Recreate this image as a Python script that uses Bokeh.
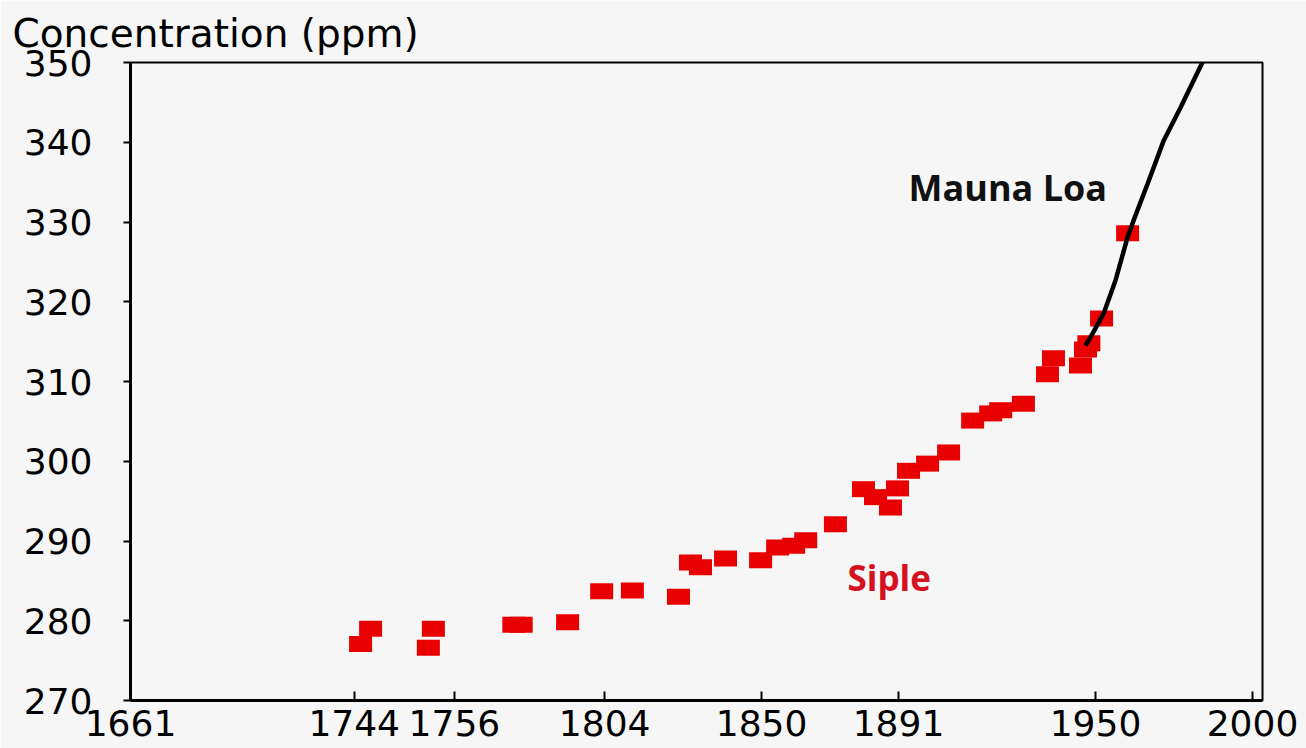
from bokeh.plotting import figure
from bokeh.models import Range1d, FixedTicker, Label
from bokeh.embed import file_html
from bokeh.resources import INLINE

# Siple ice-core CO2 samples (year, ppm)
siple_year = [1729.9, 1732.9, 1750.2, 1751.7, 1775.8, 1778.0, 1791.9, 1802.1, 1811.3,
              1825.1, 1828.7, 1831.7, 1839.2, 1849.7, 1854.8, 1859.6, 1863.2, 1872.1,
              1880.5, 1884.1, 1888.6, 1890.7, 1894.0, 1899.7, 1906.0, 1913.2, 1918.6,
              1921.6, 1928.4, 1935.6, 1937.4, 1945.5, 1947.0, 1948.0, 1951.8, 1959.6]
siple_ppm = [277.1, 279.0, 276.6, 279.0, 279.5, 279.5, 279.8, 283.7, 283.8,
             283.0, 287.3, 286.7, 287.8, 287.6, 289.2, 289.4, 290.1, 292.1,
             296.5, 295.5, 294.2, 296.6, 298.8, 299.7, 301.1, 305.1, 306.0,
             306.4, 307.2, 310.9, 312.9, 312.0, 314.0, 314.8, 317.9, 328.6]

# Mauna Loa record
mauna_year = [1947.0, 1949.1, 1952.4, 1956.0, 1959.6, 1961.4, 1965.6, 1970.4, 1975.5, 1982.1]
mauna_ppm = [314.5, 316.0, 318.5, 322.7, 328.1, 330.2, 334.8, 340.2, 344.4, 350.1]

# axis ticks (positions as drawn on the original axis, and their printed labels)
x_tick_positions = [1661, 1728, 1758, 1803, 1850, 1891, 1950, 1997]
x_tick_labels = ["1661", "1744", "1756", "1804", "1850", "1891", "1950", "2000"]
y_ticks = [270, 280, 290, 300, 310, 320, 330, 340, 350]

BG = "#f6f6f6"

p = figure(width=1306, height=748, output_backend="svg", toolbar_location=None,
           x_range=Range1d(1661, 2000), y_range=Range1d(270, 350),
           min_border_left=130, min_border_right=44, min_border_top=62, min_border_bottom=48,
           background_fill_color=BG, border_fill_color=BG)
p.grid.visible = False
p.outline_line_color = "black"
p.outline_line_width = 2

# title
p.title.text = "Concentration (ppm)"
p.title.text_font = "DejaVu Sans"
p.title.text_font_size = "39px"
p.title.text_font_style = "normal"
p.title.text_color = "black"
p.title.align = "left"
p.title.offset = -118
p.title.standoff = 13

# x axis
p.xaxis.ticker = FixedTicker(ticks=x_tick_positions)
p.xaxis.major_label_overrides = {pos: lab for pos, lab in zip(x_tick_positions, x_tick_labels)}
p.xaxis.minor_tick_line_color = None
p.xaxis.major_tick_in = 9
p.xaxis.major_tick_out = 0
p.xaxis.major_tick_line_width = 2
p.xaxis.axis_line_width = 3
p.xaxis.major_label_standoff = 9
p.xaxis.major_label_text_font = "DejaVu Sans"
p.xaxis.major_label_text_font_size = "36px"
p.xaxis.major_label_text_color = "black"

# y axis
p.yaxis.ticker = FixedTicker(ticks=y_ticks)
p.yaxis.minor_tick_line_color = None
p.yaxis.major_tick_in = 0
p.yaxis.major_tick_out = 7
p.yaxis.major_tick_line_width = 2
p.yaxis.axis_line_width = 3
p.yaxis.major_label_standoff = 31
p.yaxis.major_label_text_font = "DejaVu Sans"
p.yaxis.major_label_text_font_size = "36px"
p.yaxis.major_label_text_color = "black"

# Siple points
p.rect(x=siple_year, y=siple_ppm, width=23, height=16, width_units="screen",
       height_units="screen", fill_color="#e80000", line_color=None)

# Mauna Loa line
p.line(x=mauna_year, y=mauna_ppm, line_color="black", line_width=4.5)

# texts
p.add_layout(Label(x=1894.0, y=334.3, text="Mauna Loa", text_font="Open Sans",
                   text_font_style="bold", text_font_size="36px", text_color="#111111",
                   text_baseline="alphabetic"))
p.add_layout(Label(x=1875.7, y=285.4, text="Siple", text_font="Open Sans",
                   text_font_style="bold", text_font_size="35px", text_color="#d4111e",
                   text_baseline="alphabetic"))

open("out.html", "w").write(file_html(p, INLINE))
